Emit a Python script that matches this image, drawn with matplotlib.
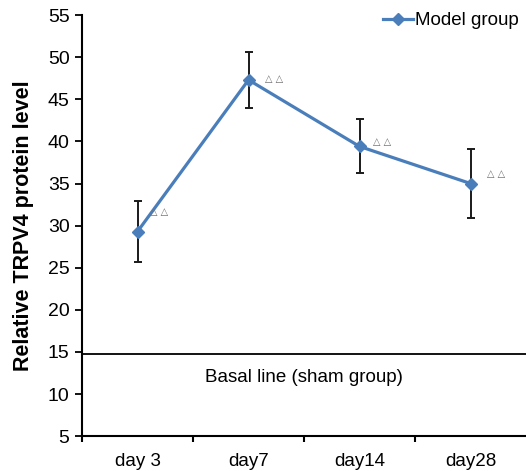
import numpy as np
import matplotlib
matplotlib.use("Agg")
from matplotlib import pyplot as plt

plt.rcParams['font.family'] = ['Liberation Sans', 'DejaVu Sans']

days = ['day 3', 'day7', 'day14', 'day28']
model_mean = [29.3, 47.3, 39.4, 35.0]
model_err = [3.6, 3.3, 3.2, 4.1]
basal_level = 14.75
marks = ['\u25b3 \u25b3'] * 4
# label offsets (points) for the significance marks
mark_dx = [9, 12, 10, 12]
mark_dy = [14, 1, 3, 7]

fig = plt.figure(figsize=(5.26, 4.71), dpi=100)
ax = fig.add_axes([0.156, 0.074, 0.844, 0.894])

x = np.arange(len(days))
ax.errorbar(x, model_mean, yerr=model_err, fmt='none', ecolor='#1a1a1a',
            elinewidth=1.4, capsize=3, capthick=1.4, zorder=2)
ax.plot(x, model_mean, color='#4a7ebb', lw=2.3, marker='D', ms=6.5,
        label='Model group', zorder=3)

for xi, yi, m, dx, dy in zip(x, model_mean, marks, mark_dx, mark_dy):
    ax.annotate(m, (xi, yi), xytext=(dx, dy), textcoords='offset points',
                fontsize=7, color='#707070', ha='left', va='center',
                family=['DejaVu Sans'])

ax.axhline(basal_level, color='black', lw=1.3)
ax.text(1.5, 12.0, 'Basal line (sham group)', ha='center', va='center', fontsize=13.5)

ax.set_xlim(-0.5, 3.5)
ax.set_ylim(5, 55)
ax.set_yticks(np.arange(5, 56, 5))
ax.set_xticks([-0.5, 0.5, 1.5, 2.5])
ax.set_xticklabels([])
ax.set_xticks(x, minor=True)
ax.set_xticklabels(days, minor=True)
ax.tick_params(axis='x', which='minor', length=0, labelsize=13.5, pad=12)
ax.tick_params(axis='x', which='major', length=4, width=1.5, direction='out')
ax.tick_params(axis='y', length=5, width=1.3, labelsize=14, pad=4)

ax.spines['top'].set_visible(False)
ax.spines['right'].set_visible(False)
ax.spines['left'].set_linewidth(1.5)
ax.spines['bottom'].set_linewidth(1.5)

ax.set_ylabel('Relative TRPV4 protein level', fontsize=15.5, fontweight='bold',
              labelpad=10)

ax.legend(loc='upper right', bbox_to_anchor=(1.0, 1.025), frameon=False,
          fontsize=13.5, handlelength=1.6, handletextpad=0.1, borderaxespad=0)

fig.savefig('out.png', dpi=100)
